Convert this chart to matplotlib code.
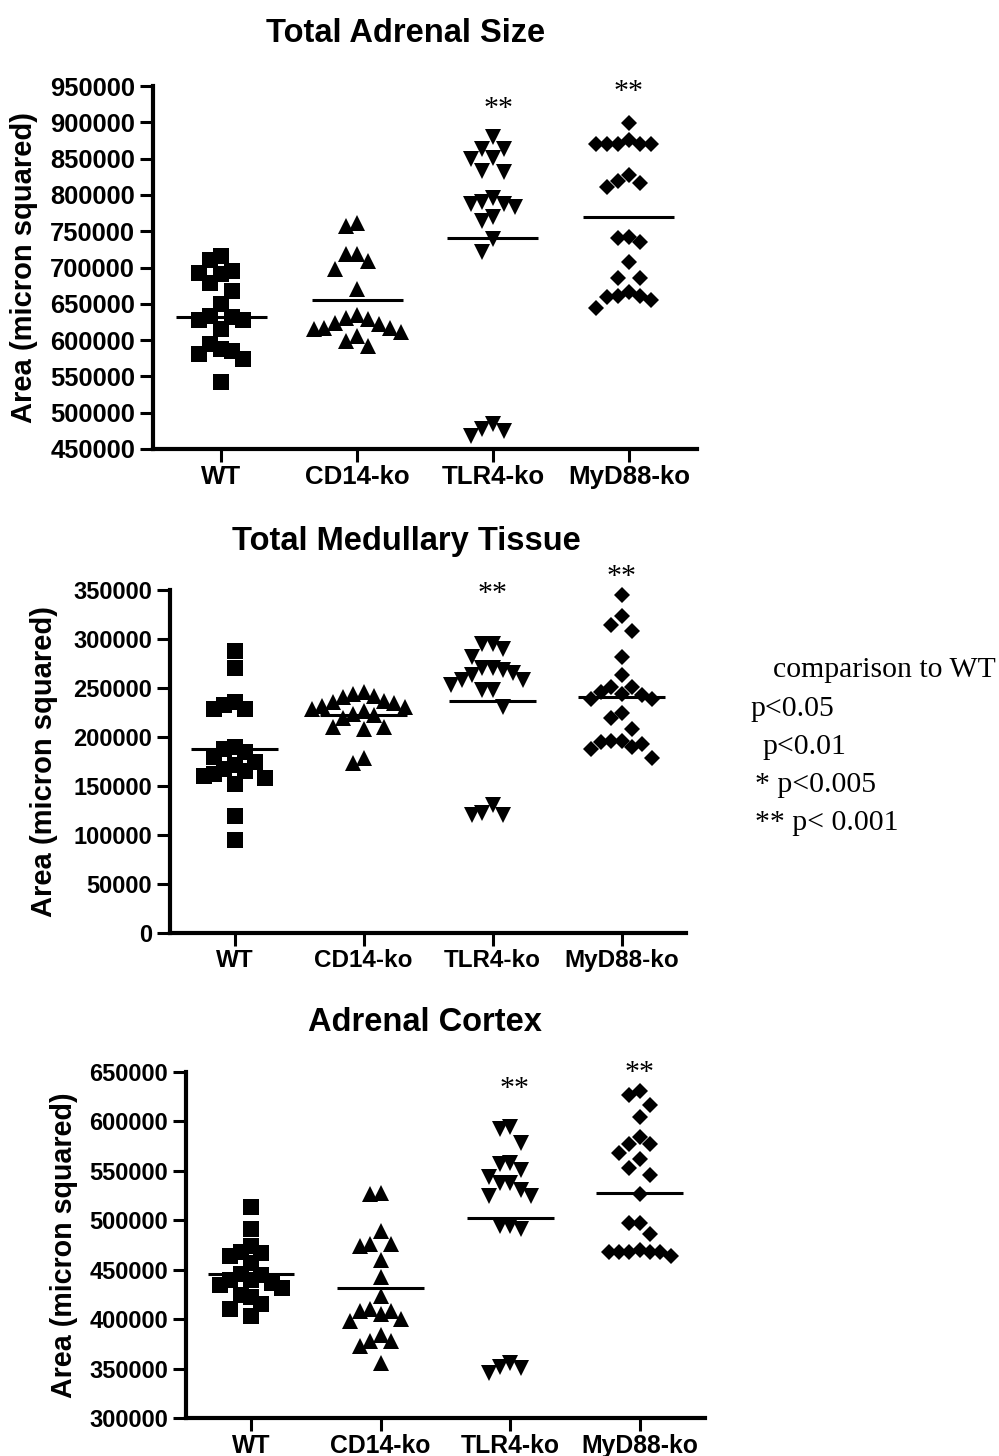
import numpy as np
import matplotlib
matplotlib.use("Agg")
import matplotlib.pyplot as plt

# ---------------- data ----------------
categories = ["WT", "CD14-ko", "TLR4-ko", "MyD88-ko"]
group_markers = ["s", "^", "v", "D"]

# Panel 1: Total Adrenal Size
size_wt = [716000, 711000, 695000, 693000, 691000, 679000, 668000, 650000, 633000, 627000,
           627000, 632000, 615000, 588000, 581000, 585000, 594000, 574000, 542000]
size_cd14 = [757000, 761000, 718000, 709000, 718000, 698000, 670000, 631000, 617000, 606000,
             615000, 624000, 634000, 592000, 611000, 599000, 629000, 617000, 622000]
size_tlr4 = [880000, 863000, 863000, 849000, 851000, 831000, 833000, 796000, 783000, 787000,
             787000, 790000, 764000, 769000, 739000, 721000, 478000, 468000, 484000, 475000]
size_myd88 = [899000, 870000, 870000, 870000, 870000, 870000, 875000, 817000, 811000, 828000,
              819000, 741000, 735000, 742000, 707000, 686000, 686000, 659000, 661000, 661000,
              655000, 666000, 644000]
size_means = [632000, 655000, 740000, 770000]

# Panel 2: Total Medullary Tissue
med_wt = [288000, 270000, 233000, 229000, 236000, 229000, 190000, 188000, 185000, 180000,
          175000, 172000, 168000, 165000, 162000, 160000, 158000, 152000, 120000, 95000]
med_cd14 = [242000, 236000, 246000, 244000, 241000, 232000, 237000, 229000, 227000, 231000,
            220000, 224000, 210000, 208000, 210000, 174000, 179000, 223000, 235000]
med_tlr4 = [295000, 295000, 290000, 282000, 270000, 268000, 270000, 258000, 263000, 258000,
            253000, 248000, 248000, 265000, 231000, 123000, 121000, 131000, 121000]
med_myd88 = [345000, 324000, 314000, 308000, 282000, 263000, 251000, 251000, 244000, 246000,
             239000, 243000, 239000, 225000, 220000, 208000, 196000, 190000, 195000, 193000,
             188000, 196000, 179000]
med_means = [188000, 223000, 237000, 241000]

# Panel 3: Adrenal Cortex
cor_wt = [513000, 491000, 474000, 464000, 468000, 467000, 457000, 446000, 440000, 435000,
          437000, 440000, 432000, 445000, 425000, 422000, 415000, 410000, 403000]
cor_cd14 = [528000, 527000, 489000, 476000, 476000, 474000, 460000, 443000, 424000, 410000,
            405000, 408000, 408000, 398000, 400000, 378000, 378000, 384000, 373000, 356000]
cor_tlr4 = [594000, 592000, 578000, 558000, 557000, 551000, 544000, 538000, 538000, 531000,
            524000, 524000, 494000, 491000, 494000, 351000, 346000, 356000, 352000]
cor_myd88 = [631000, 626000, 616000, 604000, 584000, 577000, 577000, 568000, 562000, 553000,
             546000, 526000, 497000, 497000, 486000, 468000, 468000, 468000, 464000, 470000,
             468000, 468000]
cor_means = [446000, 432000, 502000, 528000]

titles = ["Total Adrenal Size", "Total Medullary Tissue", "Adrenal Cortex"]
ylabel = "Area (micron squared)"
sig_text = "**"
legend_lines = ["comparison to WT", "p<0.05", "p<0.01", "* p<0.005", "** p< 0.001"]

# ---------------- figure ----------------
W, H = 999, 1456
fig = plt.figure(figsize=(W / 100, H / 100), dpi=100)
plt.rcParams["font.family"] = ["Liberation Sans", "DejaVu Sans"]

def px_axes(left, top, right, bottom):
    return fig.add_axes([left / W, 1 - bottom / H, (right - left) / W, (bottom - top) / H])

panels = [
    dict(box=(153.3, 86, 696.7, 449), ylim=(450000, 950000),
         groups=[size_wt, size_cd14, size_tlr4, size_myd88], means=size_means,
         tick_fs=18.4, cat_fs=18.6, lab_fs=21, lab_x=-0.238, title_x=0.465, title_pad=31.5,
         sig=[(3.04, 918500), (4.0, 941500)]),
    dict(box=(170, 590, 686, 933.3), ylim=(0, 350000),
         groups=[med_wt, med_cd14, med_tlr4, med_myd88], means=med_means,
         tick_fs=17, cat_fs=17.5, lab_fs=21, lab_x=-0.244, title_x=0.459, title_pad=28.8,
         sig=[(3.0, 346000), (4.0, 363000)]),
    dict(box=(186.3, 1071.7, 704.5, 1418.3), ylim=(300000, 650000),
         groups=[cor_wt, cor_cd14, cor_tlr4, cor_myd88], means=cor_means,
         tick_fs=17, cat_fs=17.8, lab_fs=20.6, lab_x=-0.236, title_x=0.461, title_pad=29.3,
         sig=[(3.03, 633000), (4.0, 648600)]),
]

marker_sizes = {"s": 11.3, "^": 12.2, "v": 12.2, "D": 8.5}
marker_px = 16.0
step = 0.08


def swarm_offsets(values, dy):
    values = np.asarray(values, dtype=float)
    order = np.argsort(-values, kind="stable")
    placed = []
    offs = np.zeros(len(values))
    cand = [0]
    for k in range(1, 8):
        cand += [-k, k]
    for i in order:
        v = values[i]
        chosen = cand[-1]
        for c in cand:
            if all(not (kk == c and abs(v - w) < dy) for kk, w in placed):
                chosen = c
                break
        placed.append((chosen, v))
        offs[i] = chosen * step
    return offs


for p_i, p in enumerate(panels):
    left, top, right, bottom = p["box"]
    ax = px_axes(left, top, right, bottom)
    y0, y1 = p["ylim"]
    ax.set_xlim(0.5, 4.5)
    ax.set_ylim(y0, y1)
    data_per_px = (y1 - y0) / (bottom - top)
    dy = 1.05 * marker_px * data_per_px
    for gi, vals in enumerate(p["groups"]):
        x = gi + 1 + swarm_offsets(vals, dy)
        m = group_markers[gi]
        ax.plot(x, vals, linestyle="none", marker=m, markersize=marker_sizes[m],
                color="black", markeredgewidth=0, clip_on=False, zorder=3)
        ax.hlines(p["means"][gi], gi + 1 - 0.335, gi + 1 + 0.335, color="black",
                  linewidth=2.2, zorder=4)
    ax.set_xticks(range(1, 5))
    ax.set_xticklabels(categories, fontsize=p["cat_fs"], fontweight="bold")
    ax.set_yticks(np.arange(y0, y1 + 1, 50000))
    ax.set_yticklabels([f"{int(v)}" for v in np.arange(y0, y1 + 1, 50000)],
                       fontsize=p["tick_fs"], fontweight="bold")
    for s in ["top", "right"]:
        ax.spines[s].set_visible(False)
    for s in ["left", "bottom"]:
        ax.spines[s].set_linewidth(3.0)
    ax.tick_params(axis="both", direction="out", length=9.5, width=2.2, color="black")
    ax.tick_params(axis="y", pad=3.6)
    ax.tick_params(axis="x", pad=2.0)
    ax.set_ylabel(ylabel, fontsize=p["lab_fs"], fontweight="bold", va="center")
    ax.yaxis.set_label_coords(p["lab_x"], 0.5)
    ax.set_title(titles[p_i], fontsize=23.5, fontweight="bold", x=p["title_x"],
                 pad=p["title_pad"])
    for sx, sy in p["sig"]:
        ax.text(sx, sy, sig_text, ha="center", va="center", fontsize=21.5,
                fontfamily="Liberation Serif", fontweight="normal", clip_on=False)

# significance key text (partially cut in the original)
key_pos = [(773, 676.7), (750, 716), (762, 753.5), (755, 791.7), (755, 829.5)]
for (kx, ky), line in zip(key_pos, legend_lines):
    fig.text(kx / W, 1 - ky / H, line, ha="left", va="baseline", fontsize=21.4,
             fontfamily="Liberation Serif", fontweight="normal")

fig.savefig("out.png", dpi=100)
